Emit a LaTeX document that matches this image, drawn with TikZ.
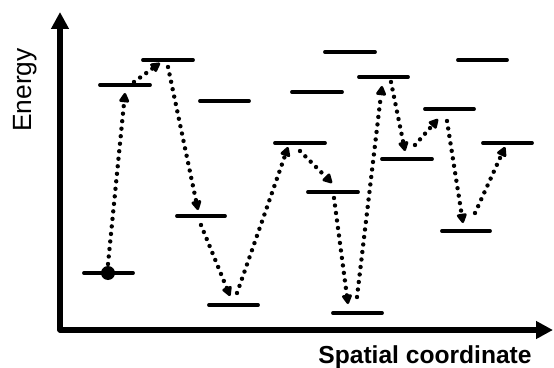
\documentclass[tikz,border=0pt]{standalone}
\usepackage{fontspec}
\setmainfont{Liberation Sans}
\usepackage{tikz}
\usepackage{tkz-euclide}
\usetikzlibrary{arrows.meta}
\tikzset{
  level/.style={line width=2.2pt},
  hop/.style={line width=2.5pt,line cap=round,dash pattern=on 0pt off 4.3pt,
    -{Triangle[length=2.2mm,width=2.2mm,round=false]}},
  axis/.style={line width=3pt,-{Triangle[length=3.4mm,width=3.4mm]}}
}

\begin{document}
\begin{tikzpicture}[x=0.02cm,y=-0.02cm]
	\useasboundingbox (0,0) rectangle (554,368);
	% axes
	\tkzDefPoints{60/330/O,60/12/Y,553/330/X}
	\tkzDrawSegments[axis](O,Y O,X)
	% energy levels
	\tkzDefPoints{84/273/L1,133/273/R1,100/85/L2,150/85/R2,143/60/L3,193/60/R3}
	\tkzDefPoints{200/101/L4,249/101/R4,177/216/L5,225/216/R5,209/305/L6,258/305/R6}
	\tkzDefPoints{275/143/L7,325/143/R7,292/92/L8,342/92/R8,325/52/L9,375/52/R9}
	\tkzDefPoints{308/192/L10,358/192/R10,333/313/L11,382/313/R11,359/77/L12,408/77/R12}
	\tkzDefPoints{382/159/L13,432/159/R13,425/109/L14,474/109/R14,458/60/L15,507/60/R15}
	\tkzDefPoints{442/231/L16,490/231/R16,483/143/L17,532/143/R17}
	\tkzDrawSegments[level](L1,R1 L2,R2 L3,R3 L4,R4 L5,R5 L6,R6 L7,R7 L8,R8 L9,R9)
	\tkzDrawSegments[level](L10,R10 L11,R11 L12,R12 L13,R13 L14,R14 L15,R15 L16,R16 L17,R17)
	% starting particle
	\tkzDefPoint(108,273){G}
	\fill (G) circle (1.4mm);
	% hopping path
	\tkzDefPoints{108/264/s1,125/93/t1,134/82/s2,160/63/t2,168/67/s3,198/210/t3}
	\tkzDefPoints{201/225/s4,230/296/t4,237/293/s5,288/147/t5,300/151/s6,332/183/t6}
	\tkzDefPoints{334/198/s7,348/304/t7,357/297/s8,382/86/t8,391/82/s9,405/151/t9}
	\tkzDefPoints{415/145/s10,438/119/t10,447/121/s11,463/223/t11,475/213/s12,505/147/t12}
	\tkzDrawSegments[hop](s1,t1 s2,t2 s3,t3 s4,t4 s5,t5 s6,t6)
	\tkzDrawSegments[hop](s7,t7 s8,t8 s9,t9 s10,t10 s11,t11 s12,t12)
	% axis labels
	\node[rotate=90,font=\fontsize{15}{17}\selectfont] (ylab) at (25,90) {Energy};
	\node[font=\fontsize{14}{16}\selectfont\bfseries] (xlab) at (425,357) {Spatial coordinate};
\end{tikzpicture}
\end{document}
